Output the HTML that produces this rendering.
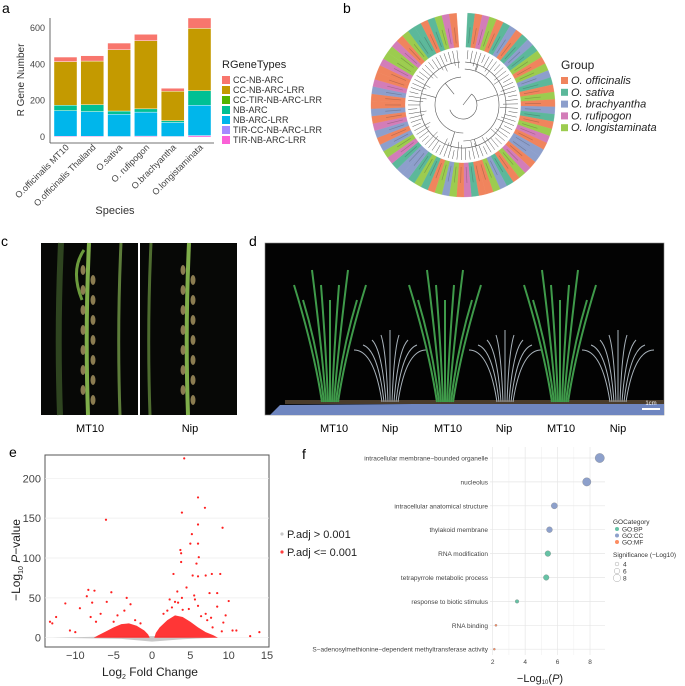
<!DOCTYPE html>
<html><head><meta charset="utf-8">
<style>
body{margin:0;background:#fff;}
svg{display:block;font-family:"Liberation Sans",Arial,sans-serif;}
.lt{font-size:14px;fill:#000}
</style></head>
<body>
<svg id="fig" width="685" height="686" viewBox="0 0 685 686" xmlns="http://www.w3.org/2000/svg">
<text class="lt" x="2" y="13">a</text>
<text class="lt" x="343" y="13">b</text>
<text class="lt" x="1" y="246">c</text>
<text class="lt" x="249" y="246">d</text>
<text class="lt" x="9" y="457">e</text>
<text class="lt" x="302" y="459">f</text>
<g id="pa"></g>
<g id="pb"></g>
<g id="pc">
  <rect x="41" y="243" width="196" height="172" fill="#070806"/>
  <rect x="138" y="243" width="2" height="172" fill="#fff"/>
  <text x="90" y="432" font-size="11" text-anchor="middle">MT10</text>
  <text x="190" y="432" font-size="11" text-anchor="middle">Nip</text>
</g>
<g id="pd">
  <rect x="265" y="243" width="399" height="172" fill="#030303"/>
  <rect x="265" y="243" width="399" height="172" fill="none" stroke="#888" stroke-width="0.6"/>
</g>
<g id="pe"></g>
<g id="pf"></g>
</svg>
<script>
const NS="http://www.w3.org/2000/svg";
function mk(p,t,a){const e=document.createElementNS(NS,t);for(const k in a)e.setAttribute(k,a[k]);p.appendChild(e);return e;}
function tx(p,x,y,s,a){const e=mk(p,'text',Object.assign({x:x,y:y},a||{}));e.textContent=s;return e;}

/* ---------- Panel a ---------- */
const aSpecies=["O.officinalis MT10","O.officinalis Thailand","O.sativa","O. rufipogon","O.brachyantha","O.longistaminata"];
const aTypes=["CC-NB-ARC","CC-NB-ARC-LRR","CC-TIR-NB-ARC-LRR","NB-ARC","NB-ARC-LRR","TIR-CC-NB-ARC-LRR","TIR-NB-ARC-LRR"];
const aColors=["#f8766d","#c49a00","#53b400","#00c094","#00b6eb","#a58aff","#fb61d7"];
const aTIR=[4,4,3,5,3,8];
const aNBLRR=[141,136,122,132,77,167];
const aNBARC=[30,38,18,18,10,80];
const aCCLRR=[240,240,337,375,162,343];
const aCC=[25,29,37,35,16,57];
const aTicks=[0,200,400,600];
(function(){
 const g=document.getElementById('pa');
 const y0=137,ys=109/600,bw=23,step=26.8,x0=54;
 const Y=v=>y0-v*ys, X=i=>x0+i*step;
 const ax=mk(g,'line',{x1:50,y1:18,x2:50,y2:143,stroke:'#444','stroke-width':0.8});
 
 const bx=mk(g,'line',{x1:50,y1:143,x2:214,y2:143,stroke:'#444','stroke-width':0.8});
 
 aTicks.forEach(t=>{const l=tx(g,45,Y(t)+3,String(t),{'font-size':9,fill:'#444','text-anchor':'end'});
  });
 const stacks=[[aTIR,6],[aNBLRR,4],[aNBARC,3],[aCCLRR,1],[aCC,0]];
 aSpecies.forEach((s,i)=>{
  let cum=0;
  stacks.forEach(([arr,ci])=>{
   const v=arr[i];
   const r=mk(g,'rect',{x:X(i),y:Y(cum+v),width:bw,height:v*ys,fill:aColors[ci],stroke:'#fff','stroke-width':0.4});
   
   cum+=v;});
  const lab=tx(g,0,0,s,{'font-size':9,fill:'#444','text-anchor':'end',transform:`translate(${X(i)+bw/2+4},${148}) rotate(-45)`});
  
 });
 const yt=tx(g,0,0,'R Gene Number',{'font-size':10,fill:'#333','text-anchor':'middle',transform:'translate(24,80) rotate(-90)'});
 
 const xt=tx(g,115,214,'Species',{'font-size':11,fill:'#333','text-anchor':'middle'});
 
 const lt=tx(g,222,68,'RGeneTypes',{'font-size':11,fill:'#222'});
 
 aTypes.forEach((t,i)=>{
  const r=mk(g,'rect',{x:222,y:76+i*10,width:8,height:8,fill:aColors[i]});
  
  const l=tx(g,233,83+i*10,t,{'font-size':9,fill:'#333'});
  
 });
})();

/* ---------- Panel b ---------- */
const bGroups=["O. officinalis","O. sativa","O. brachyantha","O. rufipogon","O. longistaminata"];
const bColors=["#f0845d","#5cb89a","#8d9fcc","#d37db8","#9ccc4f"];
const bLeaves=[1,0,3,4,0,1,2,0,1,2,1,4,0,4,2,1,0,4,0,2,1,0,4,3,0,2,2,0,3,4,0,1,2,4,0,0,1,3,0,4,2,4,0,1,4,1,2,2,1,3,4,2,0,2,3,0,2,0,0,2,3,0,0,3,4,4,3,0,4,1,1,0,1,4,3,0];
(function(){
 const g=document.getElementById('pb');
 const cx=463,cy=105,r1=58,r2=92,n=bLeaves.length,start=-Math.PI/2+0.05,span=2*Math.PI-0.12;
 const A=i=>start+span*i/n;
 const pt=(r,a)=>[cx+r*Math.cos(a),cy+r*Math.sin(a)];
 bLeaves.forEach((c,i)=>{
  const a0=A(i),a1=A(i+1);
  const p1=pt(r1,a0),p2=pt(r2,a0),p3=pt(r2,a1),p4=pt(r1,a1);
  const p=mk(g,'path',{d:`M${p1}L${p2}A${r2},${r2} 0 0 1 ${p3}L${p4}A${r1},${r1} 0 0 0 ${p1}Z`,fill:bColors[c],stroke:bColors[c],'stroke-width':0.3});
  
  const am=(a0+a1)/2,q1=pt(r1-3,am),q2=pt(r1-12-(i%4)*3,am);
  const ln=mk(g,'line',{x1:q1[0],y1:q1[1],x2:q2[0],y2:q2[1],stroke:'#555','stroke-width':0.5});
  
  const t=pt(r1+4,am),t2=pt(r1+20,am);
  const lb=mk(g,'line',{x1:t[0],y1:t[1],x2:t2[0],y2:t2[1],stroke:'#222','stroke-width':0.7,opacity:0.25});
  
 });
 [[r1-15,0,n*0.3],[r1-15,n*0.3,n*0.62],[r1-15,n*0.62,n],[36,0,n*0.5],[28,n*0.5,n],[14,0.1*n,0.7*n]].forEach(([r,i0,i1])=>{
  const p1=pt(r,A(i0)),p2=pt(r,A(i1));
  const a=mk(g,'path',{d:`M${p1}A${r},${r} 0 ${(i1-i0)/n>0.5?1:0} 1 ${p2}`,fill:'none',stroke:'#555','stroke-width':0.6});
  
 });
 [[0.05,36,r1-15],[0.2,14,36],[0.45,36,r1-15],[0.55,28,r1-15],[0.8,28,r1-15],[0.9,14,28],[0.1,0,14]].forEach(([f,ra,rb])=>{
  const a=A(f*n),p1=pt(ra,a),p2=pt(rb,a);
  const l=mk(g,'line',{x1:p1[0],y1:p1[1],x2:p2[0],y2:p2[1],stroke:'#555','stroke-width':0.6});
  });
 const lt=tx(g,561,69,'Group',{'font-size':12,fill:'#222'});
 
 bGroups.forEach((s,i)=>{
  const r=mk(g,'rect',{x:561,y:77+i*11.8,width:7,height:7,fill:bColors[i]});
  
  const l=tx(g,571,84+i*11.8,s,{'font-size':11,fill:'#222','font-style':'italic'});
  
 });
})();

/* ---------- photos decoration ---------- */
(function(){
 const c=document.getElementById('pc');
 [[88,'#7fae4a',4],[120,'#5d7d3a',3],[60,'#2f4520',6],[188,'#7fae4a',4],[150,'#4f6d30',3]].forEach(([x,col,w])=>{
  const l=mk(c,'path',{d:`M${x},415 Q${x-3},330 ${x+1},243`,stroke:col,'stroke-width':w,fill:'none'});
  
 });
 [88,188].forEach(x=>{for(let k=0;k<14;k++){const e=mk(c,'ellipse',{cx:x+(k%2?5:-5),cy:270+k*10,rx:2.5,ry:5,fill:'#9a8a5a',opacity:0.9});
   }});
 const lf=mk(c,'path',{d:'M84,250 Q70,270 82,300',stroke:'#6b9a3c','stroke-width':3,fill:'none'});
 
 const d=document.getElementById('pd');
 const pot=mk(d,'path',{d:'M280,405 L664,402 L664,415 L270,415 Z',fill:'#6f86c0'});
 
 const soil=mk(d,'rect',{x:285,y:400,width:379,height:4,fill:'#4a3c2c'});
 
 const sb=mk(d,'rect',{x:642,y:408,width:18,height:2,fill:'#fff'});
 
 const sbl=tx(d,651,405,'1cm',{'font-size':6,fill:'#fff','text-anchor':'middle'});
 
 [[330,'#3f9a4a',1],[390,'#aab4bc',0],[445,'#3f9a4a',1],[505,'#aab4bc',0],[560,'#3f9a4a',1],[618,'#aab4bc',0]].forEach(([x,col,big])=>{
  for(let k=-4;k<=4;k++){
   const top=big?300-Math.abs(k%3)*15:330+Math.abs(k)*5;
   const l=mk(d,'path',{d:`M${x+k*2},402 Q${x+k*4},${350} ${x+k*9},${top}`,stroke:col,'stroke-width':big?2:1,fill:'none'});
   }
 });
 ["MT10","Nip","MT10","Nip","MT10","Nip"].forEach((s,i)=>{
  const xs=[334,390,448,504,561,618];
  const t=tx(d,xs[i],432,s,{'font-size':11,'text-anchor':'middle'});
  
 });
})();

/* ---------- Panel e ---------- */
const eLfc=[4.2,6,6.9,3.9,-6,9.2,6,5.2,5,6,3.7,3.8,6.1,3.8,5.8,2.8,7.8,8.9,5.3,7,6,-8.3,-7.5,-5.3,-3.3,-8.5,-11.3,-9.4,-13.3,-13,-12.5,-10.7,-10,7.5,8.5,10,8.5,9.6,9.3,10.5,11,12.8,14,-7.8,-6.7,-7.3,-8,-5.9,-2.8,3.3,4.5,5.5,2.3,3,6,4,7,7.7,9.1,7.9,-4.5,-3.6,-2.2,-5,-1.5,1.5,2.6,3.4,4.8,6.4,7.2,2,3.9,5.6];
const eP=[225,176,163,157,148,138,142,130,118,118,110,106,101,95,93,80,80,80,78,78,77,60,59,57,50,52,43,37,20,18,26,9,7,56,56,46,39,28,19,9,9,2,7,44,30,20,26,45,42,58,63,53,48,45,40,35,30,25,8,13,28,34,22,20,18,30,38,44,36,27,22,34,50,48];
const eEnvL=[[-0.3,0],[-0.5,4],[-1,9],[-2,15],[-3,18],[-4,17],[-5,13],[-6,8],[-7,3],[-7.6,0]];
const eEnvR=[[0.3,0],[0.5,6],[1,13],[2,22],[3,28],[4,26],[5,20],[6,13],[7,7],[8,3],[8.6,0]];
const eXTicks=[-10,-5,0,5,10,15];
const eYTicks=[0,50,100,150,200];
(function(){
 const g=document.getElementById('pe');
 const X=v=>152+v*7.67, Y=v=>637.7-v*0.797;
 const fr=mk(g,'rect',{x:45,y:455,width:224,height:192,fill:'#fff',stroke:'#555','stroke-width':1});
 
 eYTicks.forEach(t=>{
  const gl=mk(g,'line',{x1:45,x2:269,y1:Y(t),y2:Y(t),stroke:'#eee','stroke-width':0.7});
  
  const l=tx(g,41,Y(t)+4,String(t),{'font-size':11,fill:'#444','text-anchor':'end'});
  });
 eXTicks.forEach(t=>{
  const l=tx(g,X(t),659,String(t).replace('-','−'),{'font-size':11,fill:'#444','text-anchor':'middle'});
  });
 const gb=mk(g,'path',{d:`M${X(-13)},${Y(0)} L${X(-4)},${Y(-1.5)} L${X(0)},${Y(-5)} L${X(4)},${Y(-2)} L${X(8)},${Y(0)} L${X(4)},${Y(2)} L${X(-4)},${Y(2)} Z`,fill:'#c8c8c8'});
 
 [eEnvL,eEnvR].forEach(env=>{
  const d='M'+env.map(p=>X(p[0])+','+Y(p[1])).join('L')+'Z';
  const p=mk(g,'path',{d:d,fill:'#ff2020',opacity:0.9});
  });
 eLfc.forEach((v,i)=>{
  const c=mk(g,'circle',{cx:X(v),cy:Y(eP[i]),r:1.1,fill:'#ff2020'});
  });
 const yt=mk(g,'text',{'font-size':12,fill:'#222','text-anchor':'middle',transform:'translate(20,560) rotate(-90)'});
 yt.innerHTML='−Log<tspan font-size="7" dy="3">10</tspan><tspan dy="-3"> </tspan><tspan font-style="italic">P</tspan>−value';
 
 const xt=mk(g,'text',{x:150,y:676,'font-size':12,fill:'#222','text-anchor':'middle'});
 xt.innerHTML='Log<tspan font-size="7" dy="3">2</tspan><tspan dy="-3"> Fold Change</tspan>';
 
 [['P.adj > 0.001','#c8c8c8',538],['P.adj <= 0.001','#ff4040',556]].forEach(([s,c,y])=>{
  const d=mk(g,'circle',{cx:282,cy:y-4,r:1.6,fill:c});
  const l=tx(g,287,y,s,{'font-size':11,fill:'#222'});});
})();

/* ---------- Panel f ---------- */
const fTerms=["intracellular membrane−bounded organelle","nucleolus","intracellular anatomical structure","thylakoid membrane","RNA modification","tetrapyrrole metabolic process","response to biotic stimulus","RNA binding","S−adenosylmethionine−dependent methyltransferase activity"];
const fValues=[8.6,7.8,5.8,5.5,5.4,5.3,3.5,2.2,2.1];
const fCats=["CC","CC","CC","CC","BP","BP","BP","MF","MF"];
const fXTicks=[2,4,6,8];
(function(){
 const g=document.getElementById('pf');
 const col={BP:'#66c2a5',CC:'#8da0cb',MF:'#fc8d62'};
 const X=v=>492.7+(v-2)*16.22, rowY=i=>458+i*23.9;
 for(let v=2;v<=8.5;v+=1){const l=mk(g,'line',{x1:X(v),x2:X(v),y1:447,y2:655,stroke:v%2?'#f0f0f0':'#e2e2e2','stroke-width':0.6});
  }
 fXTicks.forEach(t=>{const l=tx(g,X(t),664,String(t),{'font-size':6.5,fill:'#444','text-anchor':'middle'});
  });
 fTerms.forEach((s,i)=>{
  const gl=mk(g,'line',{x1:490,x2:605,y1:rowY(i),y2:rowY(i),stroke:'#e6e6e6','stroke-width':0.7});
  
  const l=tx(g,488,rowY(i)+2.5,s,{'font-size':6.5,fill:'#444','text-anchor':'end'});
  
  const r=1+(fValues[i]-2)*0.55;
  const c=mk(g,'circle',{cx:X(fValues[i]),cy:rowY(i),r:r,fill:col[fCats[i]],stroke:'#777','stroke-width':0.3});
  
 });
 const xt=mk(g,'text',{x:540,y:682,'font-size':11,fill:'#222','text-anchor':'middle'});
 xt.innerHTML='−Log<tspan font-size="6" dy="2">10</tspan><tspan dy="-2">(</tspan><tspan font-style="italic">P</tspan>)';
 
 const t1=tx(g,613,524,'GOCategory',{'font-size':6.5,fill:'#333'});
 [['GO:BP','BP'],['GO:CC','CC'],['GO:MF','MF']].forEach(([s,k],i)=>{
  const c=mk(g,'circle',{cx:617,cy:529+i*6.5,r:2,fill:col[k]});
  const l=tx(g,622,531.5+i*6.5,s,{'font-size':6.5,fill:'#333'});});
 const t2=tx(g,613,557,'Significance (−Log10)',{'font-size':6.5,fill:'#333'});
 [4,6,8].forEach((v,i)=>{
  const c=mk(g,'circle',{cx:617,cy:564+i*7,r:1+(v-2)*0.45,fill:'none',stroke:'#aaa','stroke-width':0.5});
  const l=tx(g,623,566.5+i*7,String(v),{'font-size':6.5,fill:'#333'});});
})();
</script>
</body></html>
